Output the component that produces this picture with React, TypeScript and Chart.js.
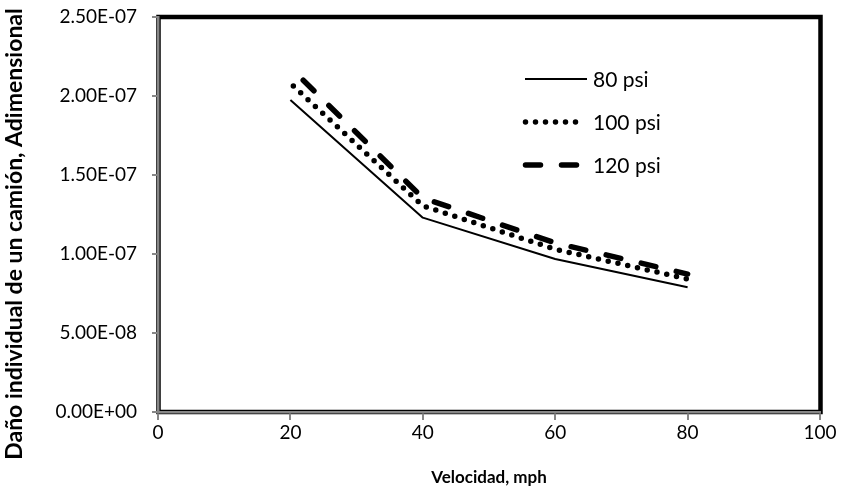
import React, { useEffect, useRef } from "react";
import { Chart, registerables } from "chart.js";

Chart.register(...registerables);

// Speeds (mph) and single-truck damage for each tire pressure
const speeds = [20, 40, 60, 80];
const damage80psi = [1.975e-7, 1.23e-7, 0.968e-7, 0.79e-7];
const damage100psi = [2.08e-7, 1.305e-7, 1.03e-7, 0.842e-7];
const damage120psi = [2.18e-7, 1.355e-7, 1.07e-7, 0.873e-7];

const seriesNames = ["80 psi", "100 psi", "120 psi"];

const xTickValues = [0, 20, 40, 60, 80, 100];
const xTickLabels = ["0", "20", "40", "60", "80", "100"];
const yTickValues = [0, 5e-8, 1e-7, 1.5e-7, 2e-7, 2.5e-7];
const yTickLabels = ["0.00E+00", "5.00E-08", "1.00E-07", "1.50E-07", "2.00E-07", "2.50E-07"];

const xTitle = "Velocidad, mph";
const yTitle = "Daño individual de un camión, Adimensional";

const FONT = "Lato, 'Open Sans', sans-serif";
const AXIS_GRAY = "#878787";

type LineStyle = {
  width: number;
  dash: number[];
  dashOffset: number;
  cap: CanvasLineCap;
};

const styles: LineStyle[] = [
  { width: 2, dash: [], dashOffset: 0, cap: "butt" },
  { width: 5.5, dash: [0, 10], dashOffset: 6, cap: "round" },
  { width: 5.5, dash: [15, 21], dashOffset: 18, cap: "round" },
];

const seriesValues = [damage80psi, damage100psi, damage120psi];

// Black plot-area frame, drawn beneath the gray axis lines
const framePlugin = {
  id: "plotFrame",
  beforeDraw(chart: Chart) {
    const { ctx, chartArea: a } = chart;
    ctx.save();
    ctx.strokeStyle = "#000";
    ctx.lineWidth = 4.5;
    ctx.strokeRect(a.left + 0.5, a.top, a.right - a.left, a.bottom - a.top);
    ctx.restore();
  },
};

// Axis titles
const titlesPlugin = {
  id: "axisTitles",
  afterDraw(chart: Chart) {
    const { ctx, chartArea: a } = chart;
    ctx.save();
    ctx.fillStyle = "#000";
    ctx.textAlign = "center";
    ctx.textBaseline = "middle";
    ctx.font = `bold 17px ${FONT}`;
    ctx.fillText(xTitle, (a.left + a.right) / 2, 478);
    ctx.translate(15, 234);
    ctx.rotate(-Math.PI / 2);
    ctx.font = `bold 23px ${FONT}`;
    ctx.fillText(yTitle, 0, 0);
    ctx.restore();
  },
};

// Legend placed inside the plot area
const legendPlugin = {
  id: "innerLegend",
  afterDraw(chart: Chart) {
    const { ctx } = chart;
    const rows = [79, 122, 165];
    ctx.save();
    seriesNames.forEach((name, i) => {
      const s = styles[i];
      const y = rows[i];
      ctx.beginPath();
      ctx.strokeStyle = "#000";
      ctx.lineWidth = s.width;
      ctx.lineCap = s.cap;
      ctx.setLineDash(s.dash);
      ctx.lineDashOffset = 0;
      const x0 = i === 0 ? 525 : 525.5;
      const x1 = i === 0 ? 587 : 578;
      ctx.moveTo(x0, y);
      ctx.lineTo(x1, y);
      ctx.stroke();
      ctx.setLineDash([]);
      ctx.fillStyle = "#000";
      ctx.font = `21px ${FONT}`;
      ctx.textAlign = "left";
      ctx.textBaseline = "middle";
      ctx.fillText(name, 593, y + 1);
    });
    ctx.restore();
  },
};

export default function App() {
  const canvasRef = useRef<HTMLCanvasElement | null>(null);

  useEffect(() => {
    const canvas = canvasRef.current;
    if (!canvas) return;

    const datasets = seriesNames.map((name, i) => ({
      label: name,
      data: speeds.map((x, j) => ({ x, y: seriesValues[i][j] })),
      borderColor: "#000",
      backgroundColor: "#000",
      borderWidth: styles[i].width,
      borderDash: styles[i].dash,
      borderDashOffset: styles[i].dashOffset,
      borderCapStyle: styles[i].cap,
      borderJoinStyle: "round" as CanvasLineJoin,
      pointRadius: 0,
      tension: 0,
      fill: false,
    }));

    const chart = new Chart(canvas, {
      type: "line",
      data: { datasets },
      options: {
        animation: false,
        responsive: false,
        devicePixelRatio: 1,
        layout: { padding: { top: 17, right: 21, left: 0, bottom: 0 } },
        plugins: {
          legend: { display: false },
          tooltip: { enabled: false },
        },
        scales: {
          x: {
            type: "linear",
            min: 0,
            max: 100,
            afterBuildTicks: (scale: any) => {
              scale.ticks = xTickValues.map((v) => ({ value: v }));
            },
            afterFit: (scale: any) => {
              scale.height = 81;
            },
            grid: {
              display: true,
              drawOnChartArea: false,
              drawTicks: true,
              tickLength: 8,
              color: AXIS_GRAY,
              lineWidth: 2,
            },
            border: { display: true, color: AXIS_GRAY, width: 2.5 },
            ticks: {
              autoSkip: false,
              maxRotation: 0,
              padding: 1,
              color: "#000",
              font: { family: FONT, size: 19 },
              callback: (_v: any, i: number) => xTickLabels[i],
            },
          },
          y: {
            type: "linear",
            min: 0,
            max: 2.5e-7,
            afterBuildTicks: (scale: any) => {
              scale.ticks = yTickValues.map((v) => ({ value: v }));
            },
            afterFit: (scale: any) => {
              scale.width = 158;
              scale.paddingTop = 0;
              scale.paddingBottom = 0;
            },
            grid: {
              display: true,
              drawOnChartArea: false,
              drawTicks: true,
              tickLength: 6,
              color: AXIS_GRAY,
              lineWidth: 2,
            },
            border: { display: true, color: AXIS_GRAY, width: 2.5 },
            ticks: {
              autoSkip: false,
              padding: 15,
              color: "#000",
              font: { family: FONT, size: 19 },
              callback: (_v: any, i: number) => yTickLabels[i],
            },
          },
        },
      },
      plugins: [framePlugin, titlesPlugin, legendPlugin],
    });

    if (document.fonts && document.fonts.ready) {
      document.fonts.ready.then(() => chart.update());
    }

    return () => chart.destroy();
  }, []);

  return (
    <div
      style={{
        position: "fixed",
        left: 0,
        top: 0,
        width: 841,
        height: 493,
        background: "#fff",
      }}
    >
      <canvas ref={canvasRef} width={841} height={493} />
    </div>
  );
}
